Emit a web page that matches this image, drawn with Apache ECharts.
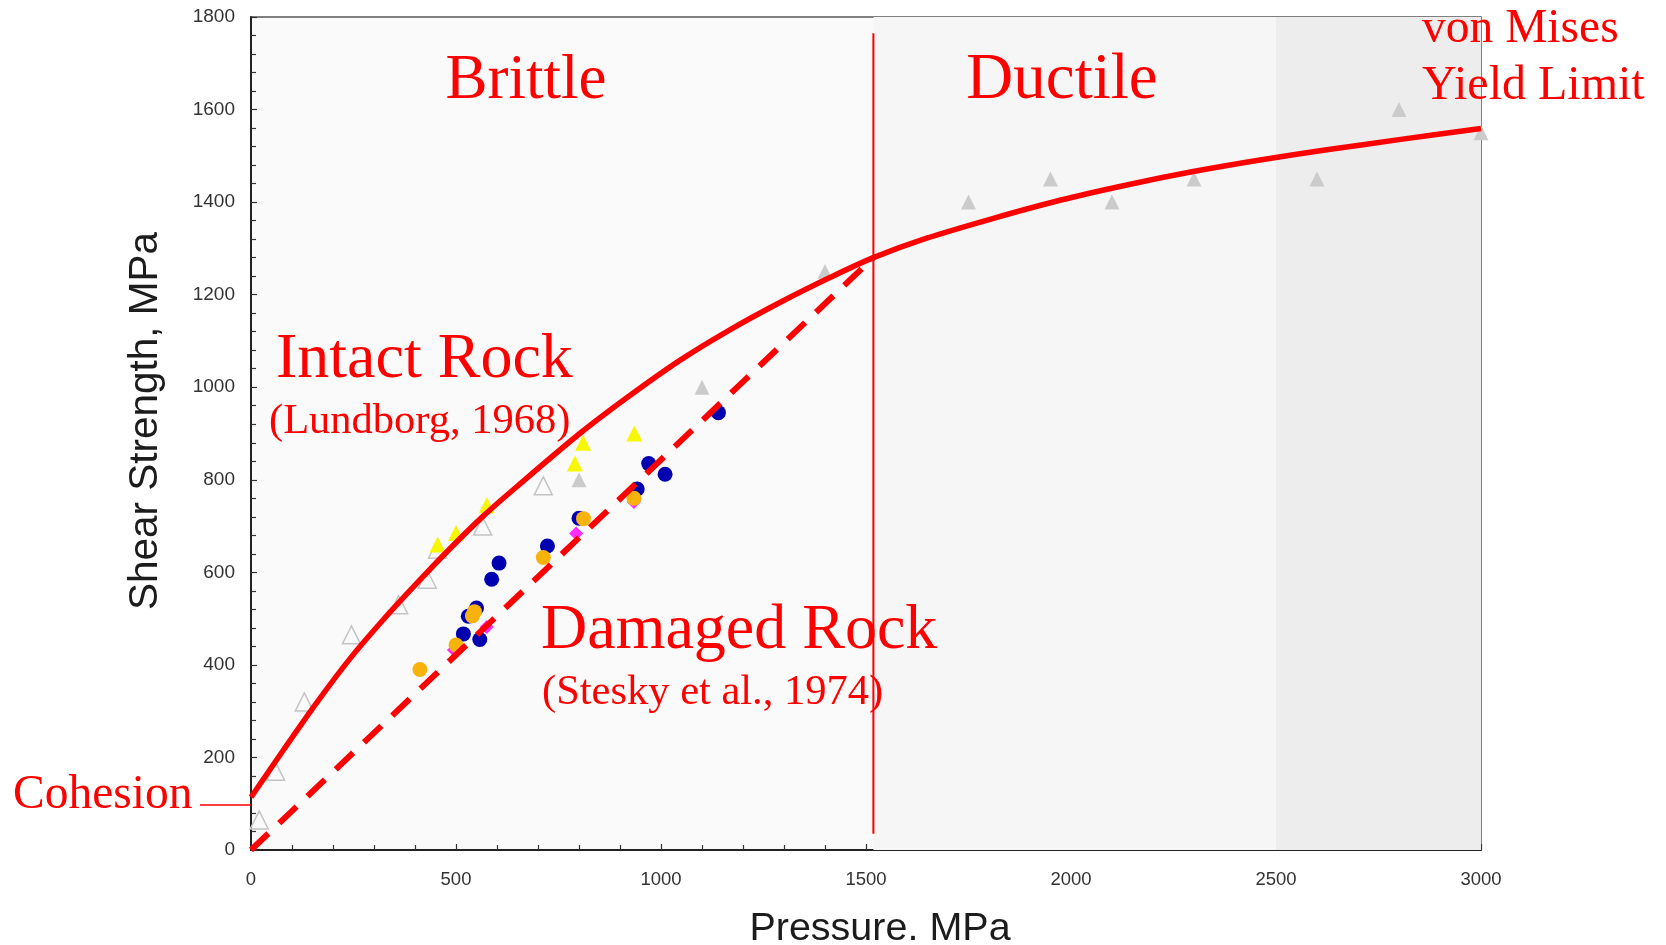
<!DOCTYPE html>
<html>
<head>
<meta charset="utf-8">
<script src="https://cdn.jsdelivr.net/npm/echarts@6/dist/echarts.min.js"></script>
<style>
  html, body { margin: 0; padding: 0; background: #ffffff; }
  #chart { width: 1666px; height: 945px; }
</style>
</head>
<body>
<div id="chart"></div>
<script>
// Shear strength vs. confining pressure: intact / damaged rock envelopes
const pressureRange = [0, 3000];
const strengthRange = [0, 1800];
const cohesion = 110;
const brittleDuctileX = 1518;
const regionEdges = [1518, 2500, 3000];

// Intact rock envelope (Lundborg, 1968)
const intactRockCurve = [
  [0, 114], [79, 216], [160, 318], [241, 413], [323, 498], [404, 576],
  [485, 651], [567, 722], [648, 785], [802, 900], [924, 982], [1046, 1058],
  [1168, 1124], [1290, 1183], [1412, 1237], [1518, 1280], [1648, 1322],
  [1811, 1365], [1973, 1404], [2136, 1437], [2298, 1466], [2461, 1491],
  [2624, 1513], [2800, 1535], [3000, 1559]
];
// Damaged rock envelope (Stesky et al., 1974)
const damagedRockLine = [[0, 0], [1518, 1280]];
// Brittle-ductile transition marker
const transitionLine = [[1518, 35], [1518, 1765]];

// Measured points
const grayFilledTri = [
  [800, 800], [1100, 1000], [1400, 1250], [1750, 1400], [1950, 1450],
  [2100, 1400], [2300, 1450], [2600, 1450], [2800, 1600], [3000, 1550]
];
const grayHollowTri = [
  [20, 65], [60, 170], [130, 320], [245, 465], [360, 530], [430, 585],
  [455, 650], [565, 700], [713, 787]
];
const yellowTri = [
  [455, 660], [500, 685], [575, 745], [790, 835], [810, 880], [935, 900]
];
const blueCircles = [
  [518, 467], [530, 505], [550, 523], [558, 455], [587, 585], [605, 620],
  [723, 657], [800, 717], [942, 780], [970, 835], [1010, 812], [1140, 945]
];
const orangeCircles = [
  [412, 390], [500, 443], [540, 506], [545, 515], [713, 632], [811, 716], [934, 760]
];
const magentaDiamonds = [
  [495, 432], [575, 482], [793, 684], [934, 752]
];

const RED = '#ff0000';
const serif = '"Liberation Serif", "Times New Roman", serif';
const sans = '"Liberation Sans", Arial, Helvetica, sans-serif';

const chart = echarts.init(document.getElementById('chart'), null, { renderer: 'canvas' });

function scatter(data, symbol, size, style, z) {
  return {
    type: 'scatter', data, symbol, symbolSize: size, clip: false,
    itemStyle: Object.assign({ opacity: 1 }, style), z: z, silent: true
  };
}

const plainNumber = v => String(v);

const option = {
  animation: false,
  backgroundColor: '#ffffff',
  grid: {
    left: 251, right: 185, top: 17, bottom: 95,
    show: true, backgroundColor: '#fafafa', borderColor: '#555', borderWidth: 1.5
  },
  xAxis: {
    type: 'value', min: pressureRange[0], max: pressureRange[1], interval: 500,
    axisLine: { onZero: false, lineStyle: { color: '#222', width: 2 } },
    axisTick: { inside: true, length: 6, lineStyle: { color: '#333', width: 1.2 } },
    minorTick: { show: true, splitNumber: 5, length: 5, lineStyle: { color: '#333', width: 1.2 } },
    splitLine: { show: false },
    axisLabel: { margin: 20, color: '#333', fontSize: 18.5, fontFamily: sans, formatter: plainNumber }
  },
  yAxis: {
    type: 'value', min: strengthRange[0], max: strengthRange[1], interval: 200,
    axisLine: { show: true, onZero: false, lineStyle: { color: '#222', width: 2 } },
    axisTick: { show: true, inside: true, length: 6, lineStyle: { color: '#333', width: 1.2 } },
    minorTick: { show: true, splitNumber: 5, length: 5, lineStyle: { color: '#333', width: 1.2 } },
    splitLine: { show: false },
    axisLabel: { margin: 16, color: '#333', fontSize: 19, fontFamily: sans, formatter: plainNumber }
  },
  series: [
    {
      // shaded ductile / von Mises regions
      type: 'line', data: [], z: 0, silent: true,
      markArea: {
        silent: true,
        data: [
          [{ xAxis: regionEdges[0], itemStyle: { color: '#f6f6f6' } }, { xAxis: regionEdges[1] }],
          [{ xAxis: regionEdges[1], itemStyle: { color: '#ededed' } }, { xAxis: regionEdges[2] }]
        ]
      }
    },
    scatter(grayHollowTri, 'triangle', 18, { color: 'rgba(0,0,0,0)', borderColor: '#c4c4c4', borderWidth: 1.5 }, 2),
    scatter(grayFilledTri, 'triangle', 15, { color: '#cbcbcb' }, 2),
    scatter(yellowTri, 'triangle', 16, { color: '#f7f700' }, 3),
    scatter(blueCircles, 'circle', 15, { color: '#0000b0' }, 3),
    scatter(orangeCircles, 'circle', 15, { color: '#f7b20c' }, 4),
    scatter(magentaDiamonds, 'diamond', 14, { color: '#ff2eff' }, 3),
    {
      type: 'line', data: transitionLine, symbol: 'none', silent: true, z: 5,
      lineStyle: { color: RED, width: 2 }
    },
    {
      type: 'line', data: damagedRockLine, symbol: 'none', silent: true, z: 6,
      lineStyle: { color: RED, width: 6, type: [24, 15] }
    },
    {
      type: 'line', data: intactRockCurve, symbol: 'none', silent: true, z: 6,
      smooth: 0.3,
      lineStyle: { color: RED, width: 5.5 }
    }
  ]
};

chart.setOption(option);

// Annotations; the cohesion leader line is placed from the axis scale
const cohesionPx = chart.convertToPixel({ gridIndex: 0 }, [0, cohesion]);

function label(text, x, y, size, extra) {
  return {
    type: 'text', x, y, z: 20, silent: true,
    style: Object.assign({
      text, fill: RED, font: size + 'px ' + serif,
      align: 'center', verticalAlign: 'middle'
    }, extra || {})
  };
}

chart.setOption({
  graphic: [
    label('Brittle', 526, 81, 63),
    label('Ductile', 1062, 81, 65),
    label('von Mises', 1422, 30, 47.5, { align: 'left' }),
    label('Yield Limit', 1422, 86, 48, { align: 'left' }),
    label('Intact Rock', 276, 360, 64, { align: 'left' }),
    label('(Lundborg, 1968)', 269, 422, 42.5, { align: 'left' }),
    label('Damaged Rock', 541, 631, 64, { align: 'left' }),
    label('(Stesky et al., 1974)', 542, 693, 42.5, { align: 'left' }),
    label('Cohesion', 13, 796, 47.5, { align: 'left' }),
    {
      type: 'line', z: 20, silent: true,
      shape: { x1: 200, y1: cohesionPx[1] + 6, x2: cohesionPx[0], y2: cohesionPx[1] + 6 },
      style: { stroke: RED, lineWidth: 1.5 }
    },
    {
      type: 'text', x: 880, y: 929, z: 20, silent: true,
      style: { text: 'Pressure. MPa', fill: '#1c1c1c', font: '39.5px ' + sans, align: 'center', verticalAlign: 'middle' }
    },
    {
      type: 'text', x: 146, y: 421, rotation: Math.PI / 2, z: 20, silent: true,
      style: { text: 'Shear Strength, MPa', fill: '#1c1c1c', font: '40.5px ' + sans, align: 'center', verticalAlign: 'middle' }
    }
  ]
});
</script>
</body>
</html>
